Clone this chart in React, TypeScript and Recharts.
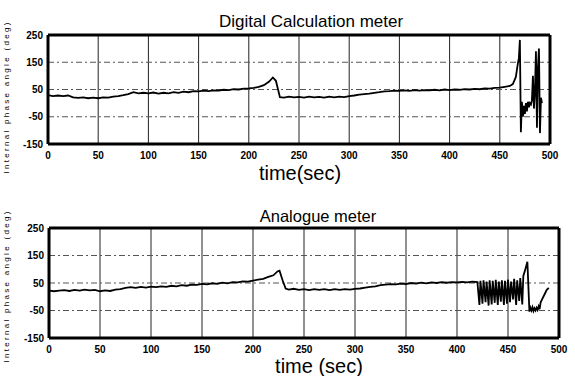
import {
  CartesianGrid,
  Line,
  LineChart,
  XAxis,
  YAxis,
} from "recharts";

const timeTicks = [0, 50, 100, 150, 200, 250, 300, 350, 400, 450, 500];
const angleTicks = [-150, -50, 50, 150, 250];

// Digital Calculation meter (sec, deg)
const digitalTime = [
  0, 5, 10, 15, 20, 25, 30, 35, 40, 45, 50, 55, 60, 65, 70, 75, 80, 85, 90, 95,
  100, 105, 110, 115, 120, 125, 130, 135, 140, 145, 150, 155, 160, 165, 170,
  175, 180, 185, 190, 195, 200, 205, 210, 215, 220, 224, 227, 231, 235, 240,
  245, 250, 255, 260, 265, 270, 275, 280, 285, 290, 295, 300, 305, 310, 315,
  320, 325, 330, 335, 340, 345, 350, 355, 360, 365, 370, 375, 380, 385, 390,
  395, 400, 405, 410, 415, 420, 425, 430, 435, 440, 445, 450, 455, 460, 463,
  466, 468, 469, 470, 470.5, 471, 472, 473, 474, 475, 476, 477, 478, 479, 480,
  481, 482, 483, 484, 485, 486, 487, 488, 489, 490, 491, 492,
];
const digitalAngle = [
  29, 26, 28, 26, 28, 21, 19, 21, 18, 20, 18, 21, 20, 24, 26, 29, 33, 40, 36,
  38, 36, 39, 35, 38, 36, 40, 38, 42, 40, 44, 43, 46, 44, 47, 46, 49, 48, 51,
  50, 53, 54, 56, 60, 66, 78, 94, 82, 22, 20, 24, 21, 23, 20, 24, 21, 23, 20,
  24, 21, 24, 22, 26, 28, 31, 33, 35, 38, 40, 43, 44, 46, 45, 47, 45, 48, 46,
  48, 47, 49, 47, 50, 48, 50, 49, 51, 50, 52, 51, 54, 53, 56, 57, 60, 63, 70,
  96, 146, 165, 232, 60, -107, 5, -50, -10, -40, 0, -30, 5, -15, 0, -5, 10,
  100, -20, 40, 190, -90, 130, 200, -110, 20, 0,
];

// Analogue meter (sec, deg)
const analogueTime = [
  0, 5, 10, 15, 20, 25, 30, 35, 40, 45, 50, 55, 60, 65, 70, 75, 80, 85, 90, 95,
  100, 105, 110, 115, 120, 125, 130, 135, 140, 145, 150, 155, 160, 165, 170,
  175, 180, 185, 190, 195, 200, 205, 210, 215, 220, 224, 226, 229, 232, 235,
  240, 245, 250, 255, 260, 265, 270, 275, 280, 285, 290, 295, 300, 305, 310,
  315, 320, 325, 330, 335, 340, 345, 350, 355, 360, 365, 370, 375, 380, 385,
  390, 395, 400, 405, 410, 415, 420, 422, 423, 425, 426, 428, 429, 431, 432,
  434, 435, 437, 438, 440, 441, 443, 444, 446, 447, 449, 450, 452, 453, 455,
  456, 458, 459, 461, 462, 464, 465, 467, 469, 471, 472, 473, 474, 475, 476,
  477, 478, 479, 480, 481, 482, 484, 486, 488, 490,
];
const analogueAngle = [
  22, 20, 22, 24, 21, 25, 22, 26, 23, 25, 20, 23, 21, 26, 28, 32, 35, 32, 36,
  33, 37, 35, 38, 36, 40, 38, 42, 40, 44, 43, 47, 45, 49, 47, 51, 49, 53, 52,
  56, 55, 59, 62, 65, 72, 78, 92, 95, 60, 30, 26, 29, 25, 28, 24, 28, 25, 28,
  24, 28, 25, 28, 26, 29, 30, 33, 36, 38, 42, 44, 46, 45, 48, 46, 50, 48, 51,
  49, 52, 50, 53, 51, 53, 52, 54, 52, 55, 53, -30, 58, -25, 60, -20, 55, -32,
  60, -28, 58, -22, 62, -30, 55, -18, 60, -30, 58, -25, 62, -20, 55, -10, 65,
  -30, 60, -15, 68, -28, 75, 100, 127, -54, -40, -50, -38, -52, -42, -50, -40,
  -48, -35, -45, -20, -5, 10, 25, 32,
];

const digitalData = digitalTime.map((t, i) => ({ time: t, angle: digitalAngle[i] }));
const analogueData = analogueTime.map((t, i) => ({ time: t, angle: analogueAngle[i] }));

const font = "'Liberation Sans', Arial, sans-serif";
const tickStyle = { fontFamily: font, fontSize: 10, fontWeight: 700, fill: "#000" };
const frameLine = { stroke: "#000", strokeWidth: 3 };

function MeterPanel({
  data,
  top,
  height,
  margin,
  yWidth,
}: {
  data: { time: number; angle: number }[];
  top: number;
  height: number;
  margin: { top: number; right: number; bottom: number; left: number };
  yWidth: number;
}) {
  return (
    <div style={{ position: "absolute", left: 0, top }}>
      <LineChart width={575} height={height} data={data} margin={margin}>
        <CartesianGrid horizontal={false} stroke="#222" strokeWidth={1} />
        <CartesianGrid vertical={false} stroke="#555" strokeDasharray="6 3 2 3" />
        <XAxis
          dataKey="time"
          type="number"
          domain={[0, 500]}
          ticks={timeTicks}
          height={20}
          axisLine={frameLine}
          tickLine={false}
          tickSize={4}
          tickMargin={4}
          tick={tickStyle}
          interval={0}
        />
        <XAxis
          xAxisId="top"
          orientation="top"
          dataKey="time"
          type="number"
          domain={[0, 500]}
          ticks={timeTicks}
          height={1}
          axisLine={frameLine}
          tickLine={false}
          tick={false}
        />
        <YAxis
          type="number"
          domain={[-150, 250]}
          ticks={angleTicks}
          width={yWidth}
          axisLine={frameLine}
          tickLine={false}
          tickSize={2}
          tickMargin={3}
          tick={tickStyle}
          interval={0}
        />
        <YAxis
          yAxisId="right"
          orientation="right"
          type="number"
          domain={[-150, 250]}
          ticks={angleTicks}
          width={1}
          axisLine={frameLine}
          tickLine={false}
          tick={false}
        />
        <Line
          type="linear"
          dataKey="angle"
          stroke="#000"
          strokeWidth={1.8}
          dot={false}
          isAnimationActive={false}
        />
        <Line
          xAxisId="top"
          yAxisId="right"
          dataKey="angle"
          stroke="none"
          dot={false}
          legendType="none"
          isAnimationActive={false}
        />
      </LineChart>
    </div>
  );
}

function Caption({
  text,
  x,
  y,
  size,
  rotate,
  spacing,
}: {
  text: string;
  x: number;
  y: number;
  size: number;
  rotate?: boolean;
  spacing?: number;
}) {
  return (
    <div
      style={{
        position: "absolute",
        left: x,
        top: y,
        transform: `translate(-50%, -50%)${rotate ? " rotate(-90deg)" : ""}`,
        fontFamily: font,
        fontSize: size,
        letterSpacing: spacing ?? 0,
        whiteSpace: "pre",
        lineHeight: 1,
        color: "#000",
      }}
    >
      {text}
    </div>
  );
}

export default function App() {
  return (
    <div
      style={{
        position: "absolute",
        left: 0,
        top: 0,
        width: 575,
        height: 376,
        background: "#fff",
        overflow: "hidden",
      }}
    >
      <MeterPanel
        data={digitalData}
        top={0}
        height={190}
        margin={{ top: 34, right: 24, bottom: 26, left: 0 }}
        yWidth={48}
      />
      <MeterPanel
        data={analogueData}
        top={190}
        height={186}
        margin={{ top: 37, right: 15, bottom: 18, left: 0 }}
        yWidth={49}
      />
      <Caption text="Digital Calculation meter" x={311} y={21} size={17} />
      <Caption text="time(sec)" x={300} y={173} size={20} />
      <Caption text="Analogue meter" x={318} y={216} size={16.5} />
      <Caption text="time (sec)" x={319} y={366} size={20} />
      <Caption text="Internal phase angle (deg)" x={7} y={97} size={8} rotate spacing={2.3} />
      <Caption text="Internal phase angle (deg)" x={7} y={286} size={8} rotate spacing={2.3} />
    </div>
  );
}
